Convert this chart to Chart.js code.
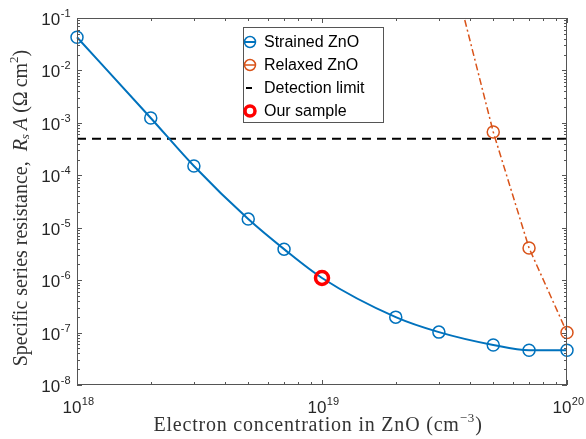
<!DOCTYPE html>
<html>
<head>
<meta charset="utf-8">
<script src="https://cdn.jsdelivr.net/npm/chart.js@4.4.0/dist/chart.umd.min.js"></script>
<style>
    html, body { margin: 0; padding: 0; background: #fff; }
</style>
</head>
<body>
<canvas id="chart" width="586" height="439"></canvas>
<script>
// Electron concentration (cm^-3) and specific series resistance (Ohm cm^2)
const strainedX = [1e18, 2e18, 3e18, 5e18, 7e18, 1e19, 2e19, 3e19, 5e19, 7e19, 1e20];
const strainedY = [4.3e-2, 1.24e-3, 1.5e-4, 1.46e-5, 3.9e-6, 1.1e-6, 1.97e-7, 1.02e-7, 5.8e-8, 4.6e-8, 4.6e-8];
const relaxedX = [3e19, 5e19, 7e19, 1e20];
const relaxedY = [8, 6.7e-4, 4.1e-6, 1.0e-7];
const detectionX = [1e18, 1e20];
const detectionY = [5e-4, 5e-4];
const sampleX = [1e19];
const sampleY = [1.1e-6];

// Tick labels (powers of ten)
const xTickExp = [18, 19, 20];
const yTickExp = [-8, -7, -6, -5, -4, -3, -2, -1];
const legendLabels = ['Strained ZnO', 'Relaxed ZnO', 'Detection limit', 'Our sample'];

const BLUE = '#0072BD';
const ORANGE = '#D95319';
const RED = '#FF0000';
const AXIS = '#262626';

function toPoints(xs, ys) {
    return xs.map((x, i) => ({ x: x, y: ys[i] }));
}

// "10" with a superscript exponent
function drawPow(ctx, exp, x, y, align) {
    const base = '10', sup = String(exp);
    ctx.font = '17px "Liberation Sans", Arial, sans-serif';
    const wb = ctx.measureText(base).width;
    ctx.font = '11px "Liberation Sans", Arial, sans-serif';
    const ws = ctx.measureText(sup).width;
    const w = wb + ws;
    let start = align === 'right' ? x - w : x - w / 2;
    ctx.textAlign = 'left';
    ctx.textBaseline = 'alphabetic';
    ctx.fillStyle = AXIS;
    ctx.font = '17px "Liberation Sans", Arial, sans-serif';
    ctx.fillText(base, start, y);
    ctx.font = '11px "Liberation Sans", Arial, sans-serif';
    ctx.fillText(sup, start + wb + 0.5, y - 8);
}

// mixed-style text line centered on (0,0) of current transform
function drawRich(ctx, segs, spacing) {
    ctx.letterSpacing = spacing + 'px';
    let total = 0;
    segs.forEach(s => { ctx.font = s.font; s.w = ctx.measureText(s.t).width; total += s.w; });
    let x = -total / 2;
    ctx.textAlign = 'left';
    ctx.textBaseline = 'middle';
    segs.forEach(s => {
        ctx.font = s.font;
        ctx.fillText(s.t, x, s.dy || 0);
        x += s.w;
    });
    ctx.letterSpacing = '0px';
}

const matlabAxes = {
    id: 'matlabAxes',
    afterDraw(chart) {
        const ctx = chart.ctx;
        const a = chart.chartArea;
        const xs = chart.scales.x, ys = chart.scales.y;
        ctx.save();

        // box
        ctx.strokeStyle = '#555';
        ctx.lineWidth = 1;
        ctx.strokeRect(a.left + 0.5, a.top + 0.5, a.right - a.left - 1, a.bottom - a.top - 1);

        // inward ticks on all four sides
        ctx.beginPath();
        for (let e = 18; e <= 20; e++) {
            for (let m = 1; m <= 9; m++) {
                const v = m * Math.pow(10, e);
                if (v > 1e20 * 1.0001) break;
                const px = Math.round(xs.getPixelForValue(v)) + 0.5;
                const len = m === 1 ? 5 : 3;
                ctx.moveTo(px, a.bottom); ctx.lineTo(px, a.bottom - len);
                ctx.moveTo(px, a.top); ctx.lineTo(px, a.top + len);
            }
        }
        for (let e = -8; e <= -1; e++) {
            for (let m = 1; m <= 9; m++) {
                const v = m * Math.pow(10, e);
                if (v > 1e-1 * 1.0001) break;
                const py = Math.round(ys.getPixelForValue(v)) + 0.5;
                const len = m === 1 ? 5 : 3;
                ctx.moveTo(a.left, py); ctx.lineTo(a.left + len, py);
                ctx.moveTo(a.right, py); ctx.lineTo(a.right - len, py);
            }
        }
        ctx.stroke();

        // tick labels
        xTickExp.forEach(e => drawPow(ctx, e, xs.getPixelForValue(Math.pow(10, e)) + 1, a.bottom + 28, 'center'));
        yTickExp.forEach(e => drawPow(ctx, e, a.left - 7, ys.getPixelForValue(Math.pow(10, e)) + 7, 'right'));

        // axis titles
        const serif = '"Liberation Serif", "Times New Roman", serif';
        ctx.fillStyle = '#333';
        ctx.save();
        ctx.translate(318, 426);
        drawRich(ctx, [
            { t: 'Electron concentration in ZnO (cm', font: '20px ' + serif },
            { t: '\u22123', font: '13px ' + serif, dy: -7 },
            { t: ')', font: '20px ' + serif }
        ], 0.8);
        ctx.restore();

        ctx.save();
        ctx.translate(22, 208);
        ctx.rotate(-Math.PI / 2);
        drawRich(ctx, [
            { t: 'Specific series resistance,  ', font: '20px ' + serif },
            { t: 'R', font: 'italic 20px ' + serif },
            { t: 's', font: 'italic 13px ' + serif, dy: 4 },
            { t: '\u2009A', font: 'italic 20px ' + serif },
            { t: ' (\u03A9\u2009cm', font: '20px ' + serif },
            { t: '2', font: '13px ' + serif, dy: -7 },
            { t: ')', font: '20px ' + serif }
        ], 0);
        ctx.restore();

        // legend box
        const lx = 243, ly = 27, lw = 140, lh = 95;
        ctx.fillStyle = '#fff';
        ctx.fillRect(lx, ly, lw, lh);
        ctx.strokeStyle = '#555';
        ctx.lineWidth = 1;
        ctx.strokeRect(lx + 0.5, ly + 0.5, lw, lh);
        const rows = [42, 65, 88, 111];
        const ix = 250;

        // strained
        ctx.strokeStyle = BLUE; ctx.lineWidth = 2; ctx.setLineDash([]);
        ctx.beginPath(); ctx.moveTo(ix - 6, rows[0]); ctx.lineTo(ix + 6, rows[0]); ctx.stroke();
        ctx.lineWidth = 1.5;
        ctx.beginPath(); ctx.arc(ix, rows[0], 5.5, 0, Math.PI * 2); ctx.stroke();
        // relaxed
        ctx.strokeStyle = ORANGE;
        ctx.beginPath(); ctx.moveTo(ix - 6, rows[1]); ctx.lineTo(ix + 6, rows[1]); ctx.stroke();
        ctx.beginPath(); ctx.arc(ix, rows[1], 5.5, 0, Math.PI * 2); ctx.stroke();
        // detection
        ctx.strokeStyle = '#000'; ctx.lineWidth = 2;
        ctx.beginPath(); ctx.moveTo(ix - 4, rows[2]); ctx.lineTo(ix + 2, rows[2]); ctx.stroke();
        // sample
        ctx.strokeStyle = RED; ctx.lineWidth = 3.5;
        ctx.beginPath(); ctx.arc(ix, rows[3], 5, 0, Math.PI * 2); ctx.stroke();

        ctx.fillStyle = '#000';
        ctx.font = '16px "Liberation Sans", Arial, sans-serif';
        ctx.textAlign = 'left';
        ctx.textBaseline = 'middle';
        legendLabels.forEach((t, i) => ctx.fillText(t, 264, rows[i] + 1));

        ctx.restore();
    }
};

new Chart(document.getElementById('chart'), {
    type: 'line',
    data: {
        datasets: [
            {
                label: legendLabels[3],
                data: toPoints(sampleX, sampleY),
                showLine: false,
                pointRadius: 6.5,
                pointBorderWidth: 3.5,
                pointBorderColor: RED,
                pointBackgroundColor: 'rgba(0,0,0,0)',
                order: 0
            },
            {
                label: legendLabels[0],
                data: toPoints(strainedX, strainedY),
                borderColor: BLUE,
                borderWidth: 2,
                cubicInterpolationMode: 'monotone',
                pointRadius: 6,
                pointBorderWidth: 1.5,
                pointBorderColor: BLUE,
                pointBackgroundColor: 'rgba(0,0,0,0)',
                clip: { left: 10, top: 0, right: 10, bottom: 10 },
                order: 1
            },
            {
                label: legendLabels[1],
                data: toPoints(relaxedX, relaxedY),
                borderColor: ORANGE,
                borderWidth: 1.5,
                borderDash: [7, 3, 2, 3],
                pointRadius: 6,
                pointBorderWidth: 1.5,
                pointBorderColor: ORANGE,
                pointBackgroundColor: 'rgba(0,0,0,0)',
                clip: { left: 0, top: 0, right: 10, bottom: 10 },
                order: 2
            },
            {
                label: legendLabels[2],
                data: toPoints(detectionX, detectionY),
                borderColor: '#000',
                borderWidth: 2,
                borderDash: [9, 6],
                pointRadius: 0,
                order: 3
            }
        ]
    },
    options: {
        responsive: false,
        animation: false,
        layout: { padding: { top: 18, right: 19, left: 0, bottom: 0 } },
        plugins: {
            legend: { display: false },
            tooltip: { enabled: false }
        },
        scales: {
            x: {
                type: 'logarithmic',
                min: 1e18,
                max: 1e20,
                ticks: { display: false },
                grid: { display: false },
                border: { display: false },
                afterFit: function (scale) { scale.height = 54; }
            },
            y: {
                type: 'logarithmic',
                min: 1e-8,
                max: 1e-1,
                ticks: { display: false },
                grid: { display: false },
                border: { display: false },
                afterFit: function (scale) { scale.width = 77; }
            }
        }
    },
    plugins: [matlabAxes]
});
</script>
</body>
</html>
